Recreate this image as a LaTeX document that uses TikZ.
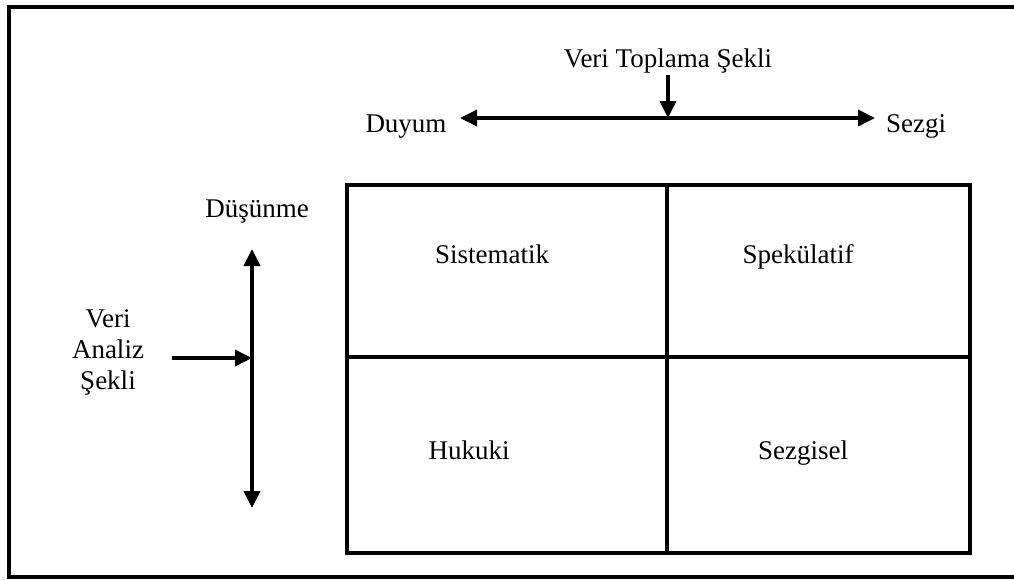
\documentclass[tikz,border=0pt]{standalone}
\usepackage{fontspec}
\setmainfont{Liberation Serif}
\usetikzlibrary{arrows.meta}
\begin{document}
\begin{tikzpicture}[x=1pt, y=-1pt,
  thick line/.style={line width=3.6pt},
  axis/.style={line width=3.6pt, -{Triangle[length=17pt,width=16pt]}},
  biaxis/.style={line width=3.6pt, {Triangle[length=17pt,width=16pt]}-{Triangle[length=17pt,width=16pt]}},
  lbl/.style={anchor=base, inner sep=0pt, font=\fontsize{27}{31}\selectfont},
  stack/.style={align=center, inner sep=0pt, font=\fontsize{27}{31}\selectfont}]
  \useasboundingbox (0,0) rectangle (1014,579);
  \begin{scope}
    \clip (0,0) rectangle (1014,579);
    % outer frame
    \draw[thick line] (9,7) rectangle (1020,577);
  \end{scope}

  % quadrant grid
  \draw[thick line] (347,185) rectangle (970,553);
  \draw[thick line] (667,185) -- (667,553);
  \draw[thick line] (347,357) -- (970,357);

  % data collection axis
  \coordinate (hl) at (460,118);
  \coordinate (hr) at (875,118);
  \coordinate (hm) at (668,118);
  \coordinate (dtop) at (668,75);
  \draw[biaxis] (hl) -- (hr);
  \draw[axis] (dtop) -- (hm);
  \node[lbl] (toplama) at (668,67) {Veri Toplama Şekli};
  \node[lbl] (duyum) at (406,132) {Duyum};
  \node[lbl] (sezgi) at (916,132) {Sezgi};

  % data analysis axis
  \coordinate (vt) at (252,249);
  \coordinate (vb) at (252,508);
  \coordinate (vm) at (252,358);
  \coordinate (vl) at (172,358);
  \draw[biaxis] (vb) -- (vt);
  \draw[axis] (vl) -- (vm);
  \node[lbl] (dusunme) at (257,217) {Düşünme};
  \node[stack] (analiz) at (108,352) {Veri\\Analiz\\Şekli};

  % quadrant labels
  \node[lbl] (sistematik) at (492,263) {Sistematik};
  \node[lbl] (spekulatif) at (798,263) {Spekülatif};
  \node[lbl] (hukuki) at (469,459) {Hukuki};
  \node[lbl] (sezgisel) at (803,459) {Sezgisel};
\end{tikzpicture}
\end{document}
